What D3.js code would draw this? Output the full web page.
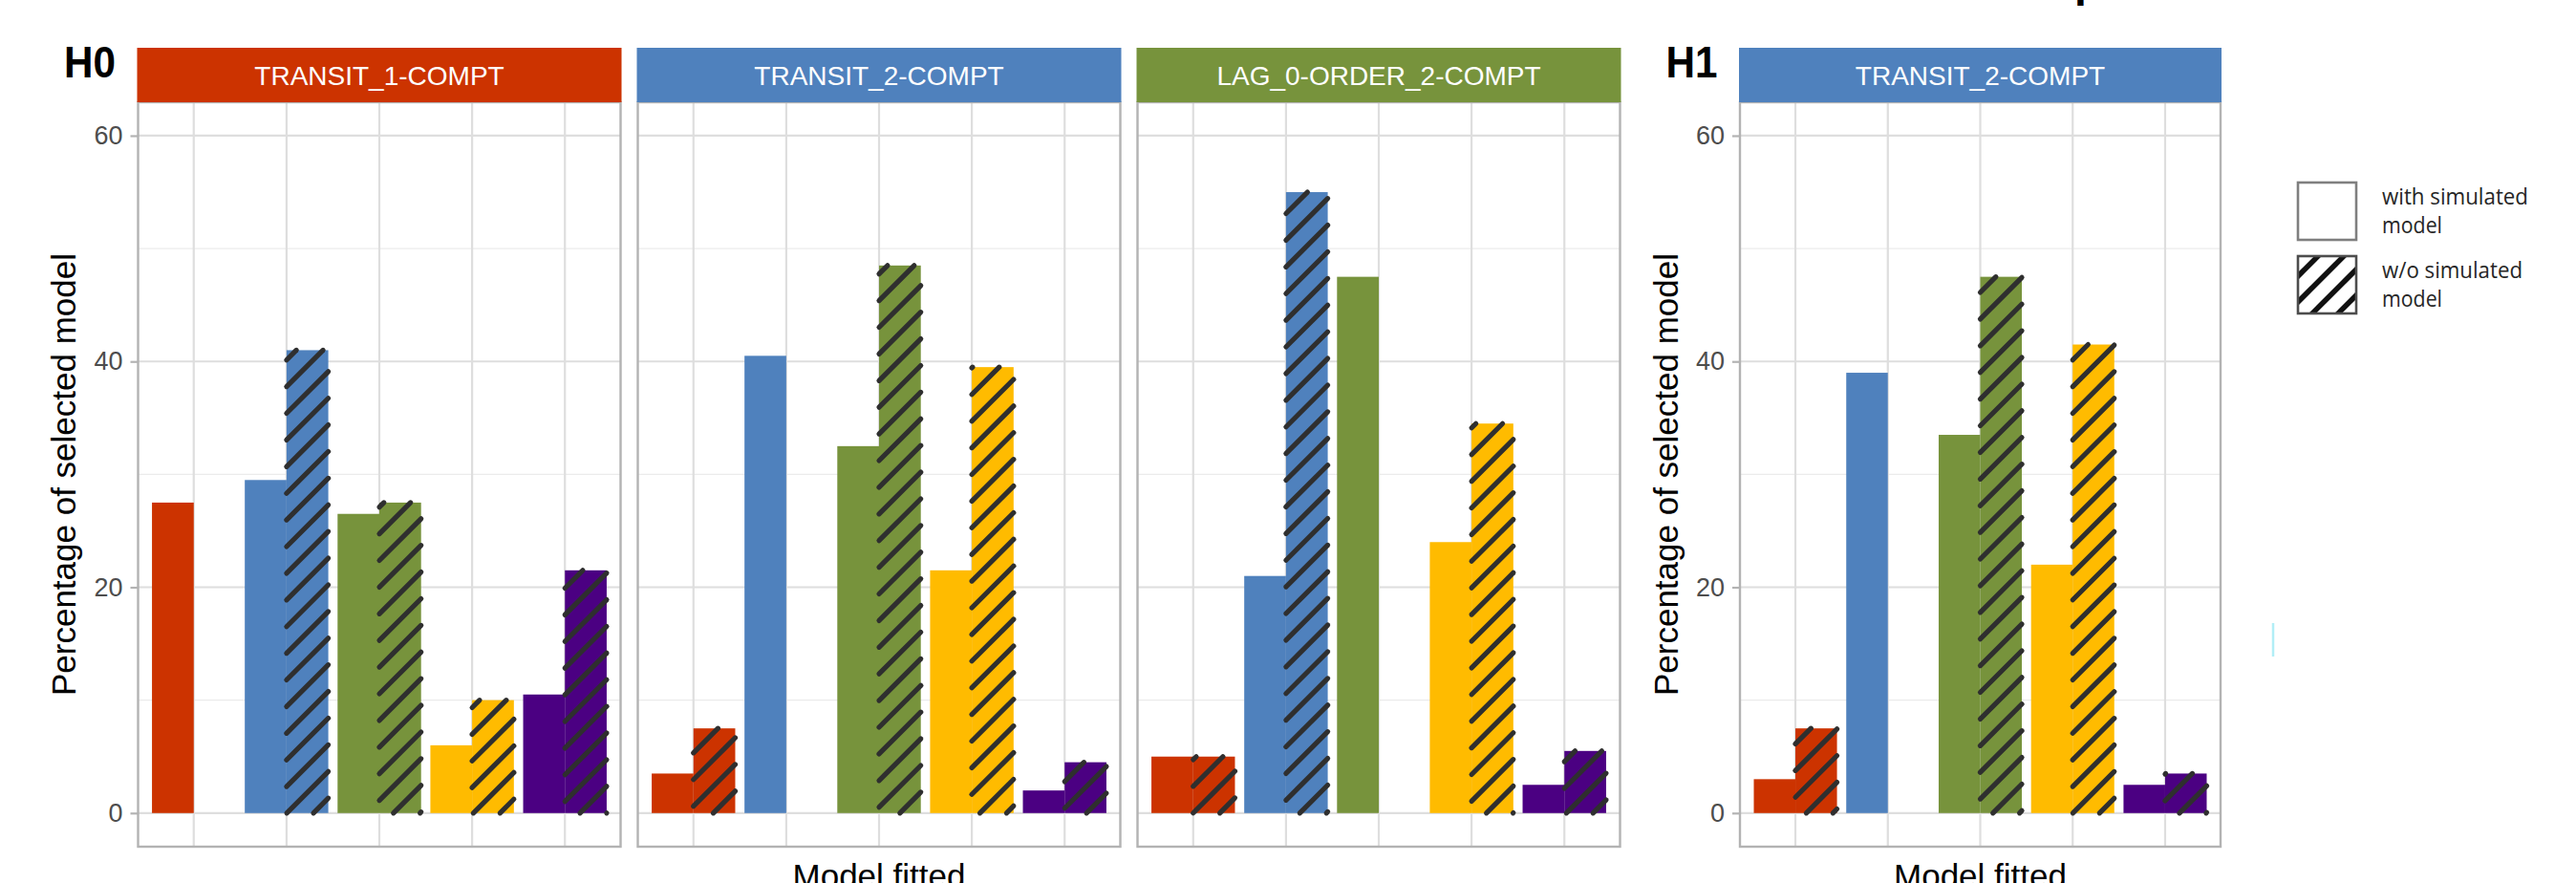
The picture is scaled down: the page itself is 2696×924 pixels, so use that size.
<!DOCTYPE html>
<html>
<head>
<meta charset="utf-8">
<script src="https://cdn.jsdelivr.net/npm/d3@7"></script>
<style>
  html, body { margin: 0; padding: 0; background: #ffffff; }
  svg { display: block; }
</style>
</head>
<body>
<script>
// Fitted models (x categories, shared by every panel) and their fill colours
const fittedModels = ["TRANSIT_1-COMPT", "TRANSIT_2-COMPT", "LAG_0-ORDER_2-COMPT", "FIT_4", "FIT_5"];
const fillColors = ["#CC3300", "#4F81BD", "#77933C", "#FFBB00", "#4B0082"];

// Facets: simulated model, hypothesis and strip colour
const panelTitles = ["TRANSIT_1-COMPT", "TRANSIT_2-COMPT", "LAG_0-ORDER_2-COMPT", "TRANSIT_2-COMPT"];
const panelGroups = ["H0", "H0", "H0", "H1"];
const stripColors = ["#CC3300", "#4F81BD", "#77933C", "#4F81BD"];

// Percentage of selected model, one row per panel, one value per fitted model
const withSimulated = [
  [27.5, 29.5, 26.5, 6.0, 10.5],
  [3.5, 40.5, 32.5, 21.5, 2.0],
  [5.0, 21.0, 47.5, 24.0, 2.5],
  [3.0, 39.0, 33.5, 22.0, 2.5]
];
const withoutSimulated = [
  [0.0, 41.0, 27.5, 10.0, 21.5],
  [7.5, 0.0, 48.5, 39.5, 4.5],
  [5.0, 55.0, 0.0, 34.5, 5.5],
  [7.5, 0.0, 47.5, 41.5, 3.5]
];

const yMajorTicks = [0, 20, 40, 60];
const yMinorTicks = [10, 30, 50];
const legendLabels = [["with simulated", "model"], ["w/o simulated", "model"]];
const axisTitleY = "Percentage of selected model";
const axisTitleX = "Model fitted";

// ---------------------------------------------------------------------------
const W = 2696, H = 924;
const FONT = "'Liberation Sans', Arial, sans-serif";
const svg = d3.select("body").append("svg")
  .attr("width", W).attr("height", H)
  .attr("viewBox", `0 0 ${W} ${H}`);

const panelTop = 107, panelBottom = 886, stripTop = 50;
const panelLeft = [144.5, 667.5, 1190.5, 1821];
const panelWidth = [505, 505, 505, 503];

const y = d3.scaleLinear().domain([-2.98, 62.96]).range([panelBottom, panelTop]);

const defs = svg.append("defs");

// Diagonal hatch drawn as individual round-capped strokes clipped to a bar
const hatchPeriod = 27.9, hatchPhase = 7;
function hatchSegments(x0, x1, y0, y1) {
  const segs = [];
  const cMin = x0 + y0, cMax = x1 + y1;
  const k = Math.ceil((cMin - hatchPhase) / hatchPeriod);
  for (let c = k * hatchPeriod + hatchPhase; c <= cMax; c += hatchPeriod) {
    const xa = Math.max(x0, c - y1), xb = Math.min(x1, c - y0);
    if (xb > xa) segs.push([xa, c - xa, xb, c - xb]);
  }
  return segs;
}

panelTitles.forEach((title, p) => {
  const x0 = panelLeft[p], w = panelWidth[p];
  const g = svg.append("g").attr("class", "panel");
  const x = d3.scalePoint().domain(fittedModels).range([x0, x0 + w]).padding(0.6);
  const bw = x.step() * 0.45;

  // grid
  g.selectAll(".minor").data(yMinorTicks).join("line")
    .attr("x1", x0).attr("x2", x0 + w)
    .attr("y1", d => y(d)).attr("y2", d => y(d))
    .attr("stroke", "#EBEBEB").attr("stroke-width", 1.2);
  g.selectAll(".major").data(yMajorTicks).join("line")
    .attr("x1", x0).attr("x2", x0 + w)
    .attr("y1", d => y(d)).attr("y2", d => y(d))
    .attr("stroke", "#DEDEDE").attr("stroke-width", 2.2);
  g.selectAll(".vgrid").data(fittedModels).join("line")
    .attr("x1", d => x(d)).attr("x2", d => x(d))
    .attr("y1", panelTop).attr("y2", panelBottom)
    .attr("stroke", "#DEDEDE").attr("stroke-width", 2.2);

  // bars: with simulated model (left) and w/o simulated model (right, hatched)
  g.selectAll(".bar-with").data(withSimulated[p]).join("rect")
    .attr("x", (d, i) => x(fittedModels[i]) - bw)
    .attr("width", bw)
    .attr("y", d => y(d))
    .attr("height", d => y(0) - y(d))
    .attr("fill", (d, i) => fillColors[i]);
  g.selectAll(".bar-without").data(withoutSimulated[p]).join("rect")
    .attr("x", (d, i) => x(fittedModels[i]))
    .attr("width", bw)
    .attr("y", d => y(d))
    .attr("height", d => y(0) - y(d))
    .attr("fill", (d, i) => fillColors[i]);

  withoutSimulated[p].forEach((v, i) => {
    if (v <= 0) return;
    const bx = x(fittedModels[i]);
    const segs = hatchSegments(bx, bx + bw, y(v), y(0));
    g.append("g").selectAll("line").data(segs).join("line")
      .attr("x1", s => s[0]).attr("y1", s => s[1])
      .attr("x2", s => s[2]).attr("y2", s => s[3])
      .attr("stroke", "#2F2F2F").attr("stroke-width", 5.2)
      .attr("stroke-linecap", "round");
  });

  // panel border
  g.append("rect")
    .attr("x", x0).attr("y", panelTop)
    .attr("width", w).attr("height", panelBottom - panelTop)
    .attr("fill", "none").attr("stroke", "#B3B3B3").attr("stroke-width", 2.4);

  // strip
  g.append("rect")
    .attr("x", x0 - 1).attr("y", stripTop)
    .attr("width", w + 2).attr("height", panelTop - stripTop)
    .attr("fill", stripColors[p]);
  g.append("text")
    .attr("x", x0 + w / 2).attr("y", (stripTop + panelTop) / 2)
    .attr("dy", "0.36em")
    .attr("text-anchor", "middle")
    .attr("font-family", FONT).attr("font-size", 28)
    .attr("fill", "#ffffff")
    .text(title);

  // y axis on the first panel of each group
  const first = p === 0 || panelGroups[p] !== panelGroups[p - 1];
  if (first) {
    const ax = g.append("g")
      .attr("transform", `translate(${x0},0)`)
      .call(d3.axisLeft(y).tickValues(yMajorTicks).tickSize(8).tickPadding(8));
    ax.select(".domain").remove();
    ax.selectAll(".tick line").attr("stroke", "#B3B3B3").attr("stroke-width", 2.2);
    ax.selectAll(".tick text")
      .attr("font-family", FONT).attr("font-size", 27)
      .attr("fill", "#4D4D4D");

    svg.append("text")
      .attr("transform", `translate(${x0 - 65.5},${(panelTop + panelBottom) / 2}) rotate(-90)`)
      .attr("text-anchor", "middle")
      .attr("font-family", FONT).attr("font-size", 35)
      .attr("fill", "#000000")
      .text(axisTitleY);

    svg.append("text")
      .attr("x", x0 - 77.5).attr("y", 81)
      .attr("font-family", FONT).attr("font-size", 46).attr("font-weight", "bold")
      .attr("textLength", 54).attr("lengthAdjust", "spacingAndGlyphs")
      .attr("fill", "#000000")
      .text(panelGroups[p]);
  }
});

// x axis titles, one per hypothesis group
const groupNames = Array.from(new Set(panelGroups));
groupNames.forEach(gName => {
  const idx = panelGroups.map((d, i) => d === gName ? i : -1).filter(i => i >= 0);
  const left = panelLeft[idx[0]];
  const right = panelLeft[idx[idx.length - 1]] + panelWidth[idx[idx.length - 1]];
  svg.append("text")
    .attr("x", (left + right) / 2).attr("y", 929)
    .attr("text-anchor", "middle")
    .attr("font-family", FONT).attr("font-size", 35)
    .attr("fill", "#000000")
    .text(axisTitleX);
});

// title glyph reaching into the top edge
svg.append("text")
  .attr("x", 2171).attr("y", -4)
  .attr("font-family", FONT).attr("font-size", 46).attr("font-weight", "bold")
  .attr("fill", "#000000")
  .text("p");

// legend
const legendX = 2405, keyW = 61, keyH = 60;
const keyY = [191, 268];
defs.append("clipPath").attr("id", "legend-key-clip")
  .append("rect").attr("x", legendX).attr("y", keyY[1]).attr("width", keyW).attr("height", keyH);
const leg = svg.append("g").attr("class", "legend");
leg.append("rect")
  .attr("x", legendX).attr("y", keyY[0]).attr("width", keyW).attr("height", keyH)
  .attr("fill", "#ffffff").attr("stroke", "#7F7F7F").attr("stroke-width", 2.6);
leg.append("rect")
  .attr("x", legendX).attr("y", keyY[1]).attr("width", keyW).attr("height", keyH)
  .attr("fill", "#ffffff");
const keySegs = [];
for (let c = legendX + keyY[1] - 60; c < legendX + keyW + keyY[1] + keyH + 60; c += 27) {
  keySegs.push([c - keyY[1] - keyH - 10, keyY[1] + keyH + 10, c - keyY[1] + 10, keyY[1] - 10]);
}
leg.append("g").attr("clip-path", "url(#legend-key-clip)")
  .selectAll("line").data(keySegs).join("line")
  .attr("x1", s => s[0]).attr("y1", s => s[1])
  .attr("x2", s => s[2]).attr("y2", s => s[3])
  .attr("stroke", "#111111").attr("stroke-width", 5.5);
leg.append("rect")
  .attr("x", legendX).attr("y", keyY[1]).attr("width", keyW).attr("height", keyH)
  .attr("fill", "none").attr("stroke", "#4D4D4D").attr("stroke-width", 2.6);

const labelLen = [[153, 63], [147, 63]];
legendLabels.forEach((lines, k) => {
  lines.forEach((t, j) => {
    leg.append("text")
      .attr("x", 2493).attr("y", keyY[k] + 23 + j * 30)
      .attr("font-family", "'Open Sans', sans-serif").attr("font-size", 24)
      .attr("textLength", labelLen[k][j]).attr("lengthAdjust", "spacingAndGlyphs")
      .attr("fill", "#262626")
      .text(t);
  });
});

// faint cyan stroke at the right of the H1 panel
svg.append("line")
  .attr("x1", 2379).attr("x2", 2379).attr("y1", 652).attr("y2", 687)
  .attr("stroke", "#B2EEF6").attr("stroke-width", 2.5);
</script>
</body>
</html>
